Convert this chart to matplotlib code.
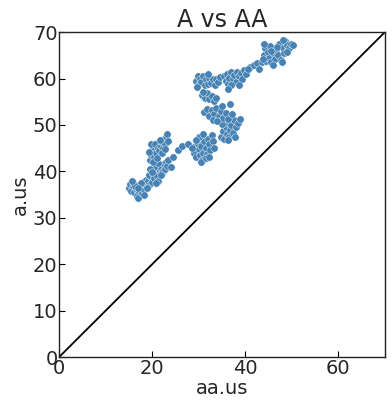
import matplotlib
matplotlib.use("Agg")
import matplotlib.pyplot as plt

aa_us = [
    # lower-left band
    15.0, 15.3, 15.5, 15.8, 16.0, 16.2, 16.5, 16.7, 17.0, 17.2, 17.0, 17.5, 17.8, 18.0,
    18.2, 18.5, 18.7, 18.3, 19.0, 19.2, 19.5, 19.8, 17.6, 16.4, 18.8, 19.3, 15.6, 16.9,
    20.0, 20.2, 20.5, 20.8, 21.0, 21.2, 21.5, 21.8, 22.0, 22.3, 22.5, 22.8, 23.0, 23.3,
    20.4, 19.6, 21.3, 22.0, 23.5, 24.0, 20.9, 19.9,
    19.5, 19.8, 20.0, 20.3, 19.7, 20.5, 20.8, 20.2, 19.4, 20.6, 21.0, 21.2,
    21.5, 21.8, 22.0, 22.3, 22.5, 22.8, 23.0, 23.2, 22.1, 21.6, 23.4, 22.7,
    24.5, 25.5, 26.5, 27.8,
    # 29-33
    29.0, 29.3, 29.5, 29.8, 30.0, 30.2, 30.5, 30.8, 31.0, 31.2, 31.5, 31.8, 32.0, 32.2,
    32.5, 32.8, 33.0, 30.0, 31.0, 29.5, 30.4, 31.6, 32.3, 33.3, 28.5,
    # 35-39, 47-51
    34.8, 35.2, 35.5, 35.8, 36.0, 36.3, 36.5, 36.8, 37.0, 37.3, 37.6, 38.0, 38.5, 37.8,
    36.2, 35.0, 38.8,
    # 31-37, 51-54
    31.2, 31.8, 32.3, 32.8, 33.3, 33.8, 34.3, 34.8, 35.3, 35.8, 36.3, 36.8, 33.0, 34.0,
    37.2, 35.0,
    # 30-34, 55-57
    30.8, 31.3, 31.8, 32.3, 32.8, 33.3, 33.8, 31.0,
    # 29-35, 58-61
    29.5, 29.8, 30.0, 30.3, 30.6, 31.0, 31.3, 31.6, 32.0, 32.3, 32.6, 33.0, 33.4, 33.8,
    34.2, 34.6, 29.7, 31.9,
    # 35-40, 58-62
    35.5, 35.8, 36.0, 36.3, 36.6, 37.0, 37.3, 37.6, 38.0, 38.3, 38.6, 39.0, 39.4, 39.8,
    40.2, 37.0, 38.6, 36.2,
    41.0, 41.8, 42.6, 43.0, 40.5,
    # top-right
    43.5, 44.0, 44.3, 44.5, 44.8, 45.0, 45.3, 45.6, 46.0, 46.3, 46.6, 47.0, 47.3, 47.6,
    48.0, 48.3, 48.6, 49.0, 49.3, 49.8, 50.3, 46.0, 47.8, 44.0, 48.0, 45.5, 43.8, 46.8,
    49.0,
]
a_us = [
    36.5, 37.2, 35.8, 36.8, 37.5, 35.5, 36.2, 34.8, 35.9, 37.0, 34.2, 36.5, 35.3, 37.8,
    36.0, 37.2, 38.2, 35.0, 36.8, 38.0, 37.3, 38.8, 37.6, 36.9, 36.5, 39.2, 37.9, 36.4,
    37.8, 39.5, 38.5, 40.2, 39.0, 38.0, 40.5, 39.6, 41.0, 40.0, 41.5, 40.6, 42.0, 41.2,
    41.0, 40.5, 41.8, 39.2, 42.5, 41.0, 37.5, 39.9,
    42.5, 43.5, 44.5, 45.3, 45.8, 43.0, 44.0, 42.0, 44.2, 45.8, 42.8, 45.0,
    44.5, 45.5, 46.5, 45.0, 47.0, 46.0, 47.5, 48.0, 44.0, 46.8, 46.5, 44.8,
    43.0, 44.5, 45.5, 46.0,
    44.0, 45.5, 43.0, 46.0, 44.8, 43.5, 45.5, 42.5, 44.0, 46.5, 45.0, 43.8, 47.0, 45.8,
    44.5, 47.8, 46.5, 47.5, 48.0, 46.8, 42.0, 42.8, 43.2, 45.0, 45.0,
    47.5, 48.8, 47.0, 49.5, 48.0, 50.5, 47.3, 49.0, 50.0, 48.2, 51.0, 49.5, 50.5, 47.5,
    46.8, 50.2, 51.2,
    52.8, 53.5, 52.0, 53.2, 52.3, 53.7, 52.0, 53.0, 51.5, 52.5, 51.2, 54.5, 51.0, 50.8,
    52.3, 54.0,
    56.5, 55.8, 56.8, 55.5, 56.2, 55.2, 55.8, 57.2,
    59.5, 60.5, 58.8, 60.0, 59.2, 60.5, 58.5, 59.8, 58.9, 60.2, 59.0, 59.8, 58.6, 60.0,
    59.2, 60.3, 58.2, 61.0,
    60.5, 59.5, 61.0, 58.8, 60.2, 61.3, 59.8, 60.8, 59.3, 61.5, 60.5, 61.2, 60.0, 61.8,
    61.0, 58.5, 58.6, 57.8,
    62.5, 62.8, 63.4, 62.0, 62.0,
    63.5, 65.0, 66.5, 63.8, 65.8, 64.5, 67.0, 63.5, 65.5, 64.2, 66.2, 65.0, 67.5, 64.0,
    66.5, 65.5, 68.0, 67.2, 66.5, 67.5, 67.2, 63.0, 63.5, 67.5, 68.3, 66.0, 64.3, 66.8,
    65.8,
]
lims = [0, 70]
xticks = [0, 20, 40, 60]
yticks = [0, 10, 20, 30, 40, 50, 60, 70]

txt = "#262626"
plt.rcParams["font.family"] = "DejaVu Sans"

fig = plt.figure(figsize=(3.92, 4.11), dpi=100)
ax = fig.add_axes([0.1505, 0.131, 0.8315, 0.791])

ax.plot(lims, lims, color="black", lw=1.3, zorder=1)
ax.scatter(aa_us, a_us, s=28, color="#4682b4", edgecolor="white", linewidth=0.3, zorder=2)

ax.set_xlim(lims)
ax.set_ylim(lims)
ax.set_xticks(xticks)
ax.set_yticks(yticks)
ax.tick_params(direction="in", length=4, width=0.8, pad=1, labelsize=14, colors="black",
               labelcolor=txt)
for sp in ax.spines.values():
    sp.set_color("#222222")
    sp.set_linewidth(1.0)

ax.set_title("A vs AA", fontsize=17, color=txt, pad=3)
ax.set_xlabel("aa.us", fontsize=14, color=txt, labelpad=1)
ax.set_ylabel("a.us", fontsize=14, color=txt, labelpad=2)

fig.savefig("out.png", dpi=100, facecolor="white")
